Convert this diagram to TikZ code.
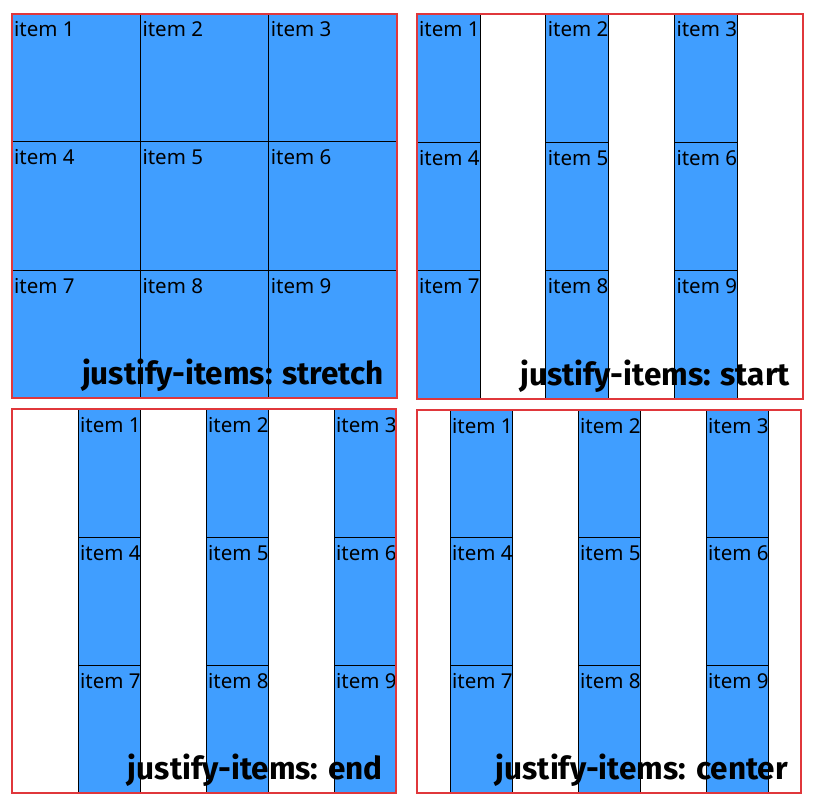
\documentclass[tikz,border=0pt]{standalone}
\usepackage{fontspec}
\setmainfont{Noto Sans}
\newfontfamily\lblfont{Fira Sans}
\definecolor{itemblue}{HTML}{409EFF}
\definecolor{gridred}{HTML}{E0373B}
\tikzset{
  cell/.style={fill=itemblue,draw=black,line width=1pt},
  frame/.style={draw=gridred,line width=1.1pt},
  itemtxt/.style={anchor=base west,inner sep=0pt,font=\fontsize{20.5}{24}\selectfont},
  lbl/.style={anchor=base east,inner sep=0pt,font=\lblfont\bfseries\fontsize{31.5}{36}\selectfont}
}
% #1 name, #2 x0, #3 y0, #4 W, #5 H, #6 item width, #7 alignment fraction, #8 label
\newcommand\gridpanel[8]{%
  \pgfmathsetmacro\cw{#4/3}%
  \pgfmathsetmacro\rh{#5/3}%
  \pgfmathsetmacro\off{(\cw-#6)*#7}%
  \foreach \r in {0,1,2}{\foreach \c in {0,1,2}{%
    \pgfmathsetmacro\xa{#2+\c*\cw+\off}%
    \pgfmathsetmacro\ya{#3+\r*\rh}%
    \pgfmathtruncatemacro\n{\r*3+\c+1}%
    \draw[cell] (\xa,\ya) rectangle ++(#6,\rh);
    \node[itemtxt] (#1-\n) at (\xa+2,\ya+23) {item \n};
  }}
  \draw[frame] (#2,#3) rectangle ++(#4,#5);
  \node[lbl] (#1-label) at (#2+#4-13,#3+#5-14) {#8};
}
\begin{document}
\begin{tikzpicture}[x=1pt,y=-1pt]
\useasboundingbox (0,0) rectangle (816,805);
\gridpanel{p1}{12}{14}{385}{384}{128.33}{0}{justify-items: stretch}
\gridpanel{p2}{417}{14}{386}{385}{63}{0}{justify-items: start}
\gridpanel{p3}{12}{409}{384}{384}{62}{1}{justify-items: end}
\gridpanel{p4}{417}{410}{384}{383}{62}{0.5}{justify-items: center}
\end{tikzpicture}
\end{document}
